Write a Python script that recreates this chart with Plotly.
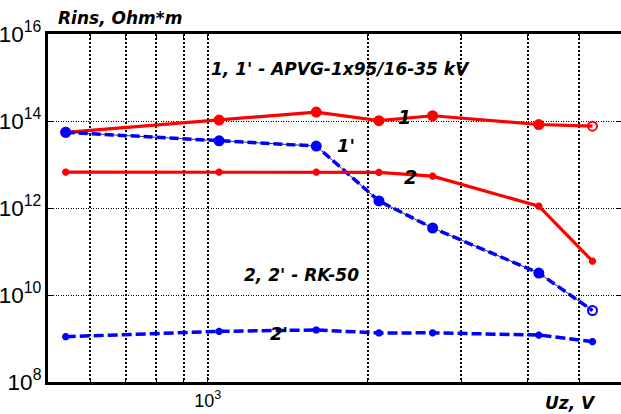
import plotly.graph_objects as go

# ---- data ----
uz = [540, 1050, 1600, 2100, 2650, 4200, 5300]
r1 = [5.5e13, 1.05e14, 1.6e14, 1.02e14, 1.32e14, 8.3e13, 7.6e13]        # 1  (APVG, solid red)
r1p = [5.5e13, 3.5e13, 2.66e13, 1.45e12, 3.47e11, 3.2e10, 4.4e9]       # 1' (APVG, dashed blue)
r2 = [6.7e12, 6.7e12, 6.7e12, 6.6e12, 5.4e12, 1.1e12, 6.0e10]          # 2  (RK-50, solid red)
r2p = [1.1e9, 1.46e9, 1.57e9, 1.34e9, 1.35e9, 1.2e9, 8.5e8]            # 2' (RK-50, dashed blue)

x_minor = [600, 700, 800, 900, 2000, 3000, 4000, 5000]
x_ticks = [1000]
x_ticktext = ["10<sup>3</sup>"]

W, H = 621, 414
L, R, T, B = 48, 0, 34, 32

def px(x):
    return (x - L) / (W - L - R)

def py(y):
    return (H - B - y) / (H - T - B)

RED = "#ff0000"
BLUE = "#0000ff"
FONT = "DejaVu Sans, Liberation Sans, Arial, sans-serif"
TFONT = "Liberation Sans, Arial, Helvetica, sans-serif"

fig = go.Figure()

circ_sym = ["circle"] * (len(uz) - 1) + ["circle-open"]

fig.add_trace(go.Scatter(x=uz, y=r1, mode="lines+markers",
                         line=dict(color=RED, width=3.2),
                         marker=dict(symbol=circ_sym, size=9, color=RED,
                                     line=dict(color=RED, width=2)),
                         showlegend=False))
fig.add_trace(go.Scatter(x=uz, y=r1p, mode="lines",
                         line=dict(color="black", width=0.8),
                         showlegend=False))
fig.add_trace(go.Scatter(x=uz, y=r1p, mode="lines+markers",
                         line=dict(color=BLUE, width=3.5, dash="9px,4px"),
                         marker=dict(symbol=circ_sym, size=9, color=BLUE,
                                     line=dict(color=BLUE, width=2)),
                         showlegend=False))
fig.add_trace(go.Scatter(x=uz, y=r2, mode="lines+markers",
                         line=dict(color=RED, width=3.2),
                         marker=dict(symbol="asterisk-open", size=6,
                                     line=dict(color=RED, width=2.5)),
                         showlegend=False))
fig.add_trace(go.Scatter(x=uz, y=r2p, mode="lines+markers",
                         line=dict(color=BLUE, width=3.5, dash="10px,4px"),
                         marker=dict(symbol="asterisk-open", size=6,
                                     line=dict(color=BLUE, width=2.5)),
                         showlegend=False))

def ann(text, x, y, size=17):
    fig.add_annotation(text="<b><i>%s</i></b>" % text, x=px(x), y=py(y),
                       xref="paper", yref="paper", showarrow=False,
                       xanchor="center", yanchor="middle",
                       font=dict(family=FONT, size=size, color="black"))

ann("Rins, Ohm*m", 120, 18, 17)
ann("1, 1' - APVG-1x95/16-35 kV", 340, 69, 17)
ann("1", 404, 117, 19)
ann("1'", 346, 145, 18)
ann("2", 411, 177, 19)
ann("2, 2' - RK-50", 301, 275, 17)
ann("2'", 279, 333, 18)
ann("Uz, V", 570, 403, 17)

axis_common = dict(showline=True, linecolor="black", linewidth=3, mirror="ticks",
                   ticks="inside", ticklen=5, tickcolor="black", tickwidth=1,
                   zeroline=False, automargin=False,
                   tickfont=dict(family=TFONT, size=18, color="black"))

fig.update_xaxes(type="log", range=[2.699, 3.778],
                 tickvals=x_ticks, ticktext=x_ticktext,
                 showgrid=True, gridcolor="black", griddash="2px,2px", gridwidth=1.5,
                 minor=dict(tickvals=x_minor, showgrid=True, gridcolor="black",
                            griddash="2px,2px", gridwidth=1.5, ticks="inside",
                            ticklen=4, tickcolor="black"),
                 **axis_common)
fig.update_yaxes(type="log", range=[8, 16], dtick=2, exponentformat="power",
                 showgrid=True, gridcolor="black", griddash="1px,1.5px", gridwidth=1,
                 **axis_common)

fig.update_layout(width=W, height=H,
                  margin=dict(l=L, r=R, t=T, b=B),
                  plot_bgcolor="white", paper_bgcolor="white")

fig.write_html("out.html", config={"displayModeBar": False},
               post_script="document.body.style.margin='0';document.body.style.padding='0';")
